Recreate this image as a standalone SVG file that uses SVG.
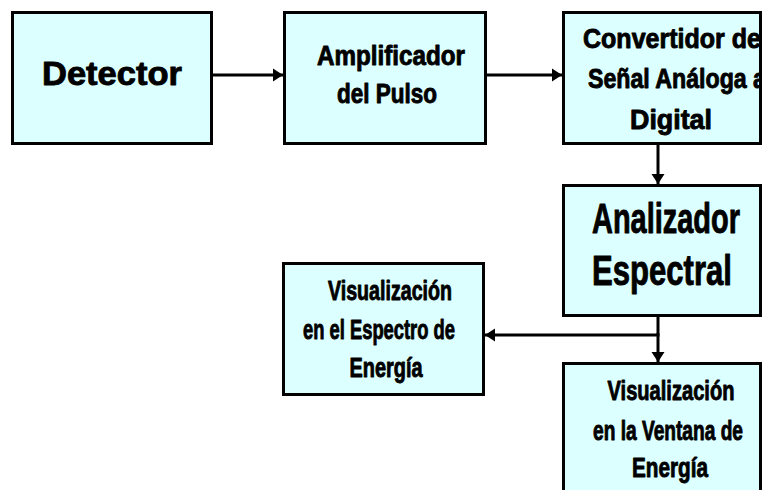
<svg xmlns="http://www.w3.org/2000/svg" width="762" height="490" viewBox="0 0 762 490">
<style>
.box{fill:#dcffff;stroke:#000;stroke-width:3}
.t{font-family:"Liberation Sans",Arial,sans-serif;font-weight:bold;fill:#000;stroke:#000;stroke-width:0.9;stroke-linejoin:round}
.c{stroke:#000;stroke-width:3;fill:none}
</style>
<defs>
<marker id="ah" viewBox="0 0 10 13" refX="10" refY="6.5" markerWidth="3.5" markerHeight="4.5" orient="auto" markerUnits="strokeWidth">
<path d="M0,0 L10,6.5 L0,13 z" fill="#000"/>
</marker>
<clipPath id="clipR"><rect x="0" y="0" width="759" height="490"/></clipPath>
</defs>
<rect width="762" height="490" fill="#fff"/>
<g id="connectors">
<line class="c" x1="212" y1="75" x2="283" y2="75" marker-end="url(#ah)"/>
<line class="c" x1="486" y1="75" x2="562" y2="75" marker-end="url(#ah)"/>
<line class="c" x1="658" y1="144" x2="658" y2="184" marker-end="url(#ah)"/>
<polyline class="c" points="658,316 658,335 485,335" marker-end="url(#ah)"/>
<line class="c" x1="658" y1="333" x2="658" y2="362" marker-end="url(#ah)"/>
</g>
<g id="detector">
<rect class="box" x="12.5" y="12.5" width="199" height="131"/>
<text class="t" x="112" y="85" font-size="34" text-anchor="middle" textLength="140" lengthAdjust="spacingAndGlyphs">Detector</text>
</g>
<g id="amplificador">
<rect class="box" x="284.5" y="12.5" width="201" height="131"/>
<text class="t" x="391" y="65" font-size="27" text-anchor="middle" textLength="148" lengthAdjust="spacingAndGlyphs">Amplificador</text>
<text class="t" x="387" y="103" font-size="27" text-anchor="middle" textLength="100" lengthAdjust="spacingAndGlyphs">del Pulso</text>
</g>
<g id="convertidor">
<rect class="box" x="563.5" y="12.5" width="197" height="131"/>
<g clip-path="url(#clipR)">
<text class="t" x="583" y="48" font-size="28" textLength="178" lengthAdjust="spacingAndGlyphs">Convertidor de</text>
<text class="t" x="588" y="88" font-size="28" textLength="178" lengthAdjust="spacingAndGlyphs">Señal Análoga a</text>
</g>
<text class="t" x="671" y="129" font-size="28" text-anchor="middle" textLength="82" lengthAdjust="spacingAndGlyphs">Digital</text>
</g>
<g id="analizador">
<rect class="box" x="563.5" y="185.5" width="197" height="130"/>
<text class="t" x="666" y="233" font-size="42" text-anchor="middle" textLength="148" lengthAdjust="spacingAndGlyphs">Analizador</text>
<text class="t" x="662" y="285" font-size="42" text-anchor="middle" textLength="140" lengthAdjust="spacingAndGlyphs">Espectral</text>
</g>
<g id="visual-espectro">
<rect class="box" x="283.5" y="263.5" width="200" height="131"/>
<text class="t" x="390" y="300" font-size="27" text-anchor="middle" textLength="124" lengthAdjust="spacingAndGlyphs">Visualización</text>
<text class="t" x="379" y="339" font-size="27" text-anchor="middle" textLength="152" lengthAdjust="spacingAndGlyphs">en el Espectro de</text>
<text class="t" x="386" y="377" font-size="27" text-anchor="middle" textLength="73" lengthAdjust="spacingAndGlyphs">Energía</text>
</g>
<g id="visual-ventana">
<rect class="box" x="563.5" y="363.5" width="197" height="140"/>
<text class="t" x="671" y="400" font-size="27" text-anchor="middle" textLength="127" lengthAdjust="spacingAndGlyphs">Visualización</text>
<text class="t" x="668" y="440" font-size="27" text-anchor="middle" textLength="150" lengthAdjust="spacingAndGlyphs">en la Ventana de</text>
<text class="t" x="670" y="477" font-size="27" text-anchor="middle" textLength="76" lengthAdjust="spacingAndGlyphs">Energía</text>
</g>
</svg>
